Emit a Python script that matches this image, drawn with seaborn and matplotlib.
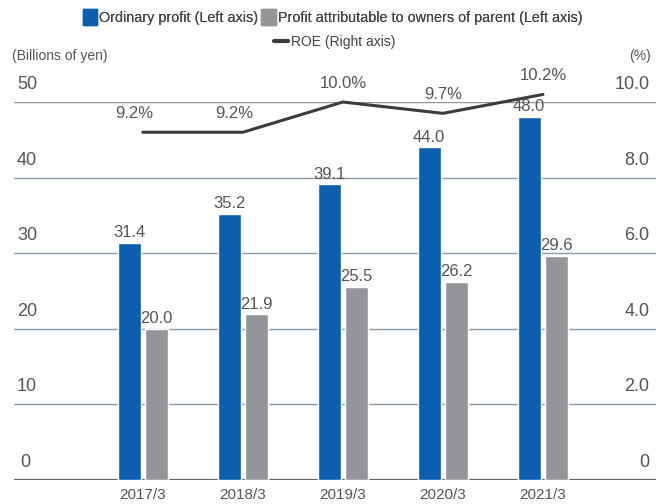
import numpy as np
import pandas as pd
import matplotlib
matplotlib.use("Agg")
import matplotlib.pyplot as plt
import matplotlib.transforms as mtransforms
from matplotlib.patches import Patch
from matplotlib.lines import Line2D
import seaborn as sns

# data
years = ['2017/3', '2018/3', '2019/3', '2020/3', '2021/3']
ordinary_profit = [31.4, 35.2, 39.1, 44.0, 48.0]
owners_profit = [20.0, 21.9, 25.5, 26.2, 29.6]
roe = [9.2, 9.2, 10.0, 9.7, 10.2]
left_ticks = [0, 10, 20, 30, 40, 50]
right_ticks = ['0', '2.0', '4.0', '6.0', '8.0', '10.0']

blue = '#0b5fae'
grey = '#939598'
dark = '#3c3c3c'
txt = '#555555'

sns.set_theme(style='white')
plt.rcParams['font.family'] = ['Liberation Sans', 'DejaVu Sans']

df = pd.DataFrame({
    'year': years * 2,
    'value': ordinary_profit + owners_profit,
    'series': ['Ordinary profit'] * 5 + ['Owners'] * 5,
})

fig = plt.figure(figsize=(6.56, 5.04), dpi=100)
ax = fig.add_axes([0.021, 0.0476, 0.979, 0.75])

sns.barplot(data=df, x='year', y='value', hue='series',
            palette=[blue, grey], width=0.55, gap=0.16,
            legend=False, ax=ax, saturation=1)

ax.set_ylim(0, 50)
ax.set_xlim(-1.29, 5.13)
ax.set_xlabel('')
ax.set_ylabel('')
ax.set_yticks([])
for s in ax.spines.values():
    s.set_visible(False)
ax.tick_params(axis='x', length=0, pad=6, labelsize=11, labelcolor=txt)

# gridlines
for t in left_ticks:
    ax.axhline(t, color='#666666' if t == 0 else '#8c9aa6',
               lw=1.6 if t == 0 else 1.0, zorder=0)

# tick labels sitting above gridlines
tl = mtransforms.blended_transform_factory(ax.transAxes, ax.transData)
for t, r in zip(left_ticks, right_ticks):
    ax.text(0.005 if t > 0 else 0.01, t + 1.2, str(t), transform=tl,
            ha='left', va='bottom', fontsize=13, color=txt)
    ax.text(0.99, t + 1.2, r, transform=tl, ha='right', va='bottom',
            fontsize=13, color=txt)

# bar labels
for cont in ax.containers:
    ax.bar_label(cont, fmt='%.1f', padding=2, fontsize=12, color=txt)

# ROE line on right axis
ax2 = ax.twinx()
sns.lineplot(x=np.arange(len(years)), y=roe, color=dark, lw=2.2, ax=ax2)
ax2.set_ylim(0, 10)
ax2.set_yticks([])
for s in ax2.spines.values():
    s.set_visible(False)
for l in ax2.lines:
    l.set_clip_on(False)
for i, v in enumerate(roe):
    ax2.annotate(f'{v:.1f}%', (i, v), xytext=(-6 if i < 2 else 0, 8),
                 textcoords='offset points', ha='center', va='bottom',
                 fontsize=12, color=txt, annotation_clip=False)

fig.text(0.018, 0.888, '(Billions of yen)', fontsize=10, color=txt,
         va='center')
fig.text(0.992, 0.888, '(%)', fontsize=10, color=txt, va='center',
         ha='right')

leg1 = fig.legend(handles=[Patch(color=blue, label='Ordinary profit (Left axis)'),
                           Patch(color=grey, label='Profit attributable to owners of parent (Left axis)')],
                  loc='center', bbox_to_anchor=(0.507, 0.966), ncol=2,
                  frameon=False, fontsize=10.4, handlelength=1.0, handleheight=1.4,
                  handletextpad=0.15, columnspacing=0.2, borderpad=0)
for t in leg1.get_texts():
    t.set_color('#444444')
leg2 = fig.legend(handles=[Line2D([], [], color=dark, lw=3, label='ROE (Right axis)')],
                  loc='center', bbox_to_anchor=(0.51, 0.916), frameon=False,
                  fontsize=10, handlelength=1.0, handletextpad=0.2, borderpad=0)
for t in leg2.get_texts():
    t.set_color('#444444')
fig.add_artist(leg1)

fig.savefig('out.png', dpi=100)
